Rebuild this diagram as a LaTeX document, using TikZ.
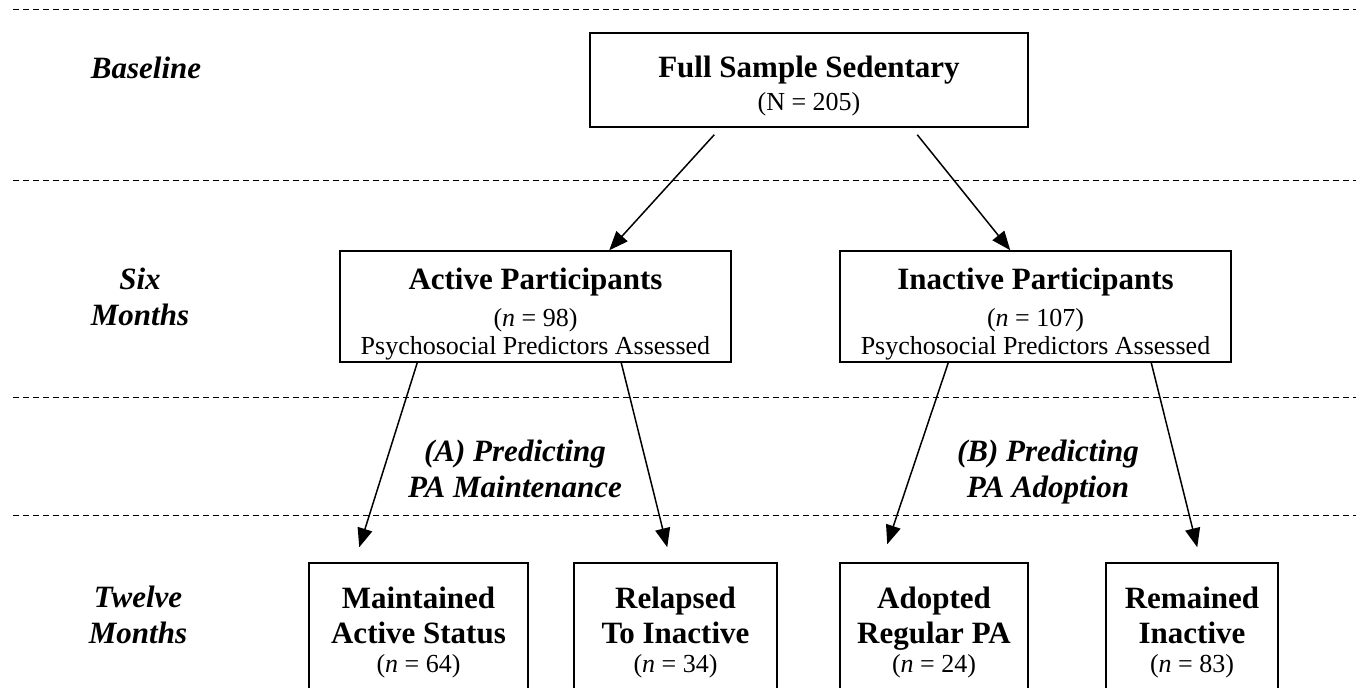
\documentclass[tikz,border=0pt]{standalone}
\usepackage{fontspec}
\setmainfont{Liberation Serif}
\usetikzlibrary{arrows.meta}
\newcommand\rg{\mdseries\fontsize{26}{29}\selectfont}
\begin{document}
\begin{tikzpicture}[x=1pt,y=1pt,
  box/.style={draw, line width=1.5pt, align=center, inner sep=0pt,
    font=\fontsize{31}{35}\selectfont\bfseries},
  lab/.style={align=center, font=\fontsize{31}{36}\selectfont\bfseries\itshape},
  sep/.style={line width=1pt, dash pattern=on 6pt off 4pt},
  arr/.style={line width=1.5pt, -{Triangle[length=19pt,width=15pt]}}]
\path[use as bounding box, clip] (0,0) rectangle (1361,688);
\fill[white] (0,0) rectangle (1361,688);
\foreach \yy in {678,507,290,172} \draw[sep] (13,\yy) -- (1356,\yy);

\node[box, minimum width=438pt, minimum height=94pt] (full) at (809,608)
  {\rule{0pt}{34pt}Full Sample Sedentary\\[-2pt]{\rg (N = 205)}};
\node[box, minimum width=391pt, minimum height=111pt] (act) at (535.5,381.5)
  {\rule{0pt}{36pt}Active Participants\\[2pt]{\rg (\textit{n} = 98)}\\[-7pt]{\rg Psychosocial Predictors Assessed}};
\node[box, minimum width=391pt, minimum height=111pt] (ina) at (1035.5,381.5)
  {\rule{0pt}{36pt}Inactive Participants\\[2pt]{\rg (\textit{n} = 107)}\\[-7pt]{\rg Psychosocial Predictors Assessed}};

\node[box, minimum width=219pt, minimum height=130pt] (mai) at (418.5,60)
  {\rule{0pt}{30pt}Maintained\\Active Status\\[-6pt]{\rg (\textit{n} = 64)}};
\node[box, minimum width=203pt, minimum height=130pt] (rel) at (675.5,60)
  {\rule{0pt}{30pt}Relapsed\\To Inactive\\[-6pt]{\rg (\textit{n} = 34)}};
\node[box, minimum width=188pt, minimum height=130pt] (ado) at (934,60)
  {\rule{0pt}{30pt}Adopted\\Regular PA\\[-6pt]{\rg (\textit{n} = 24)}};
\node[box, minimum width=172pt, minimum height=130pt] (rem) at (1192,60)
  {\rule{0pt}{30pt}Remained\\Inactive\\[-6pt]{\rg (\textit{n} = 83)}};

\node[lab] (base) at (146,620) {Baseline};
\node[lab] (six) at (140,391.5) {Six\\Months};
\node[lab] (twelve) at (138,73) {Twelve\\Months};
\node[lab] (pa) at (515,219.5) {(A) Predicting\\PA Maintenance};
\node[lab] (pb) at (1048,216) {(B) Predicting\\PA Adoption};

\draw[arr] ([xshift=125pt,yshift=-7pt]full.south west) -- ([xshift=270pt]act.north west);
\draw[arr] ([xshift=328pt,yshift=-7pt]full.south west) -- ([xshift=171pt]ina.north west);
\draw[arr] ([xshift=78pt]act.south west) -- ([xshift=51pt,yshift=15pt]mai.north west);
\draw[arr] ([xshift=282pt]act.south west) -- ([xshift=94pt,yshift=15pt]rel.north west);
\draw[arr] ([xshift=109pt]ina.south west) -- ([xshift=48pt,yshift=18pt]ado.north west);
\draw[arr] ([xshift=312pt]ina.south west) -- ([xshift=92pt,yshift=15pt]rem.north west);
\end{tikzpicture}
\end{document}
